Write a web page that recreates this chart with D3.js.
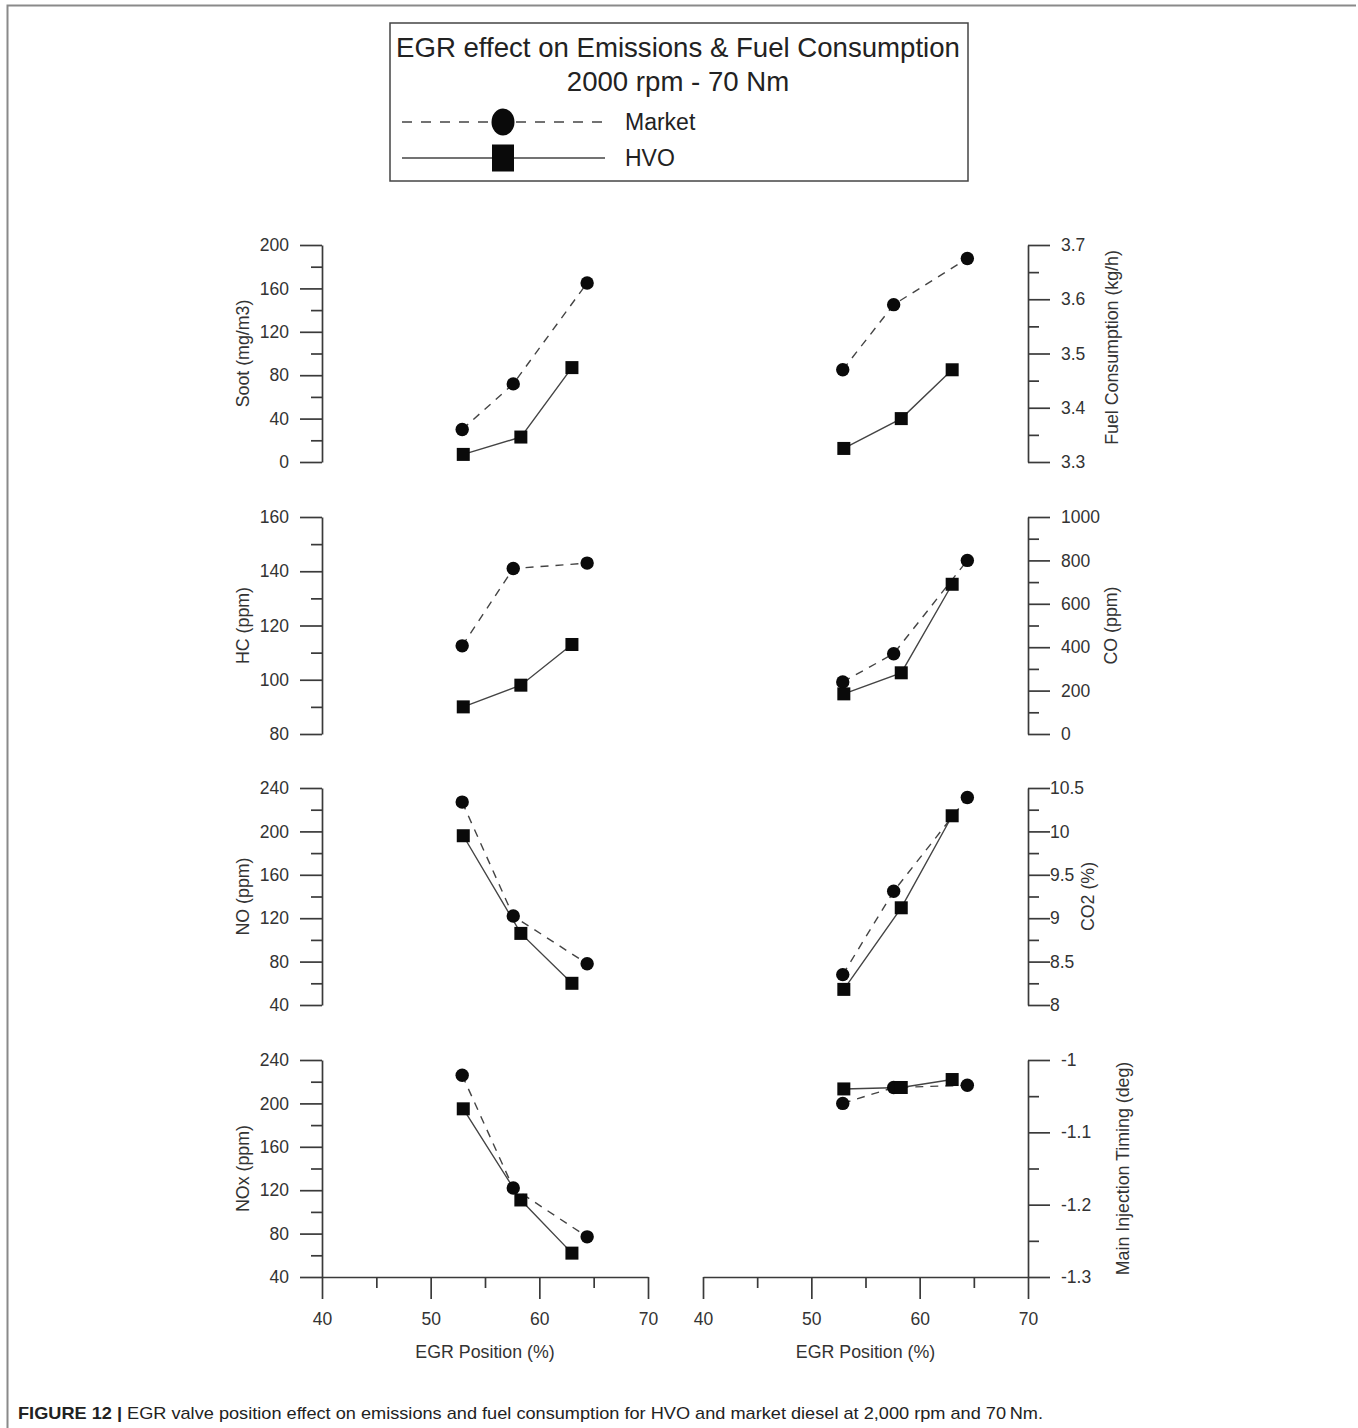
<!DOCTYPE html>
<html>
<head>
<meta charset="utf-8">
<script src="https://cdn.jsdelivr.net/npm/d3@7"></script>
<style>
  html, body { margin: 0; padding: 0; background: #fff; }
  svg { display: block; }
  text { font-family: "Liberation Sans", Arial, Helvetica, sans-serif; fill: #333; }
</style>
</head>
<body>
<script>
// EGR valve position (%) for each fuel
const egrMarket = [52.9, 57.6, 64.4];
const egrHVO = [53.0, 58.3, 63.0];

// Measured quantities, Market diesel vs HVO
const sootMarket = [30, 72, 165];
const sootHVO = [7, 23, 87];
const fuelMarket = [3.47, 3.59, 3.675];
const fuelHVO = [3.325, 3.38, 3.47];
const hcMarket = [112.5, 141, 143];
const hcHVO = [90, 98, 113];
const coMarket = [240, 370, 800];
const coHVO = [185, 282, 690];
const noMarket = [227, 122, 78];
const noHVO = [196, 106, 60];
const co2Market = [8.35, 9.31, 10.39];
const co2HVO = [8.18, 9.12, 10.18];
const noxMarket = [226, 122, 77];
const noxHVO = [195, 111, 62];
const mitMarket = [-1.06, -1.038, -1.035];
const mitHVO = [-1.04, -1.038, -1.027];

// Axis tick labels
const egrTicks = [40, 50, 60, 70];
const sootTicks = [0, 40, 80, 120, 160, 200];
const fuelTicks = [3.3, 3.4, 3.5, 3.6, 3.7];
const hcTicks = [80, 100, 120, 140, 160];
const coTicks = [0, 200, 400, 600, 800, 1000];
const noTicks = [40, 80, 120, 160, 200, 240];
const co2Ticks = [8, 8.5, 9, 9.5, 10, 10.5];
const noxTicks = [40, 80, 120, 160, 200, 240];
const mitTicks = [-1.3, -1.2, -1.1, -1];

const panels = [
  { col: 0, row: 0, title: "Soot (mg/m3)", ticks: sootTicks, market: sootMarket, hvo: sootHVO },
  { col: 1, row: 0, title: "Fuel Consumption (kg/h)", ticks: fuelTicks, market: fuelMarket, hvo: fuelHVO, titleDx: 84, titleDy: -6 },
  { col: 0, row: 1, title: "HC (ppm)", ticks: hcTicks, market: hcMarket, hvo: hcHVO },
  { col: 1, row: 1, title: "CO (ppm)", ticks: coTicks, market: coMarket, hvo: coHVO, titleDx: 83 },
  { col: 0, row: 2, title: "NO (ppm)", ticks: noTicks, market: noMarket, hvo: noHVO },
  { col: 1, row: 2, title: "CO2 (%)", ticks: co2Ticks, market: co2Market, hvo: co2HVO, titleDx: 60, pad: 0 },
  { col: 0, row: 3, title: "NOx (ppm)", ticks: noxTicks, market: noxMarket, hvo: noxHVO },
  { col: 1, row: 3, title: "Main Injection Timing (deg)", ticks: mitTicks, market: mitMarket, hvo: mitHVO, titleDx: 95 }
];

const W = 1358, H = 1428;
const rowTop = [245, 517, 788, 1060];
const panelH = 217;
const axisColor = "#3a3a3a";
const lineColor = "#444";
const markColor = "#0a0a0a";
const dash = "8,7";
const fmt = d => String(+d.toFixed(3));

const svg = d3.select("body").append("svg")
  .attr("width", W).attr("height", H)
  .attr("viewBox", `0 0 ${W} ${H}`);

svg.append("rect").attr("width", W).attr("height", H).attr("fill", "#fff");

// outer frame
svg.append("path")
  .attr("d", "M7.5,1428 V5.5 H1356")
  .attr("fill", "none").attr("stroke", "#8a8a8a").attr("stroke-width", 2);

// Legend box
const leg = svg.append("g");
leg.append("rect")
  .attr("x", 390).attr("y", 23).attr("width", 578).attr("height", 158)
  .attr("fill", "#fff").attr("stroke", "#444").attr("stroke-width", 1.5);
leg.append("text").attr("x", 678).attr("y", 57).attr("text-anchor", "middle")
  .style("font-size", "27.6px").style("fill", "#222").text("EGR effect on Emissions & Fuel Consumption");
leg.append("text").attr("x", 678).attr("y", 91).attr("text-anchor", "middle")
  .style("font-size", "27.6px").style("fill", "#222").text("2000 rpm - 70 Nm");

const legendRows = [
  { name: "Market", y: 122, dash: "10,9", shape: "circle" },
  { name: "HVO", y: 158, dash: null, shape: "square" }
];
legendRows.forEach(r => {
  leg.append("line").attr("x1", 402).attr("x2", 605).attr("y1", r.y).attr("y2", r.y)
    .attr("stroke", lineColor).attr("stroke-width", 1.4)
    .attr("stroke-dasharray", r.dash);
  if (r.shape === "circle") {
    leg.append("ellipse").attr("cx", 503).attr("cy", r.y).attr("rx", 11.5).attr("ry", 13.5).attr("fill", markColor);
  } else {
    leg.append("rect").attr("x", 492).attr("y", r.y - 13.5).attr("width", 22).attr("height", 27).attr("fill", markColor);
  }
  leg.append("text").attr("x", 625).attr("y", r.y + 8).style("font-size", "23px").style("fill", "#222").text(r.name);
});

// x scales for both columns
const xScales = [
  d3.scaleLinear().domain([40, 70]).range([322, 648]),
  d3.scaleLinear().domain([40, 70]).range([703, 1028])
];
const yAxisX = [322, 1028];

function midpoints(arr) {
  return arr.slice(1).map((v, i) => (v + arr[i]) / 2);
}

function styleAxis(g) {
  g.selectAll("path, line").attr("stroke", axisColor).attr("stroke-width", 1.7);
  g.selectAll("text").style("font-size", "17.5px").style("fill", "#333")
    .style("font-family", '"Liberation Sans", Arial, sans-serif');
}

panels.forEach(p => {
  const top = rowTop[p.row];
  const x = xScales[p.col];
  const ext = d3.extent(p.ticks);
  const y = d3.scaleLinear().domain(ext).range([top + panelH, top]);
  const g = svg.append("g");
  const ax = yAxisX[p.col];

  // y axis: major + minor ticks
  const mk = p.col === 0 ? d3.axisLeft : d3.axisRight;
  const major = mk(y).tickValues(p.ticks).tickFormat(fmt)
    .tickSize(22).tickSizeOuter(0).tickPadding(p.pad !== undefined ? p.pad : 11);
  const minor = mk(y).tickValues(midpoints(p.ticks)).tickFormat("")
    .tickSize(11).tickSizeOuter(0);
  g.append("g").attr("transform", `translate(${ax},0)`).call(major).call(styleAxis);
  g.append("g").attr("transform", `translate(${ax},0)`).call(minor).call(styleAxis)
    .select(".domain").remove();

  // y axis title
  const tx = p.col === 0 ? ax - 79 : ax + p.titleDx;
  const ty = top + panelH / 2 + (p.titleDy || 0);
  g.append("text")
    .attr("transform", `translate(${tx},${ty}) rotate(-90)`)
    .attr("text-anchor", "middle").attr("dominant-baseline", "central")
    .style("font-size", "17.8px").style("fill", "#333")
    .text(p.title);

  // x axis on the bottom row
  if (p.row === 3) {
    const xb = top + panelH;
    const xMajor = d3.axisBottom(x).tickValues(egrTicks).tickFormat(fmt)
      .tickSize(22).tickSizeOuter(0).tickPadding(14);
    const xMinor = d3.axisBottom(x).tickValues(midpoints(egrTicks)).tickFormat("")
      .tickSize(11).tickSizeOuter(0);
    g.append("g").attr("transform", `translate(0,${xb})`).call(xMajor).call(styleAxis);
    g.append("g").attr("transform", `translate(0,${xb})`).call(xMinor).call(styleAxis)
      .select(".domain").remove();
    g.append("text")
      .attr("x", (x.range()[0] + x.range()[1]) / 2).attr("y", 1358)
      .attr("text-anchor", "middle")
      .style("font-size", "17.8px").style("fill", "#333")
      .text("EGR Position (%)");
  }

  // series: Market (dashed, circles) below HVO (solid, squares)
  const mPts = egrMarket.map((e, i) => [e, p.market[i]]);
  const hPts = egrHVO.map((e, i) => [e, p.hvo[i]]);
  const line = d3.line().x(d => x(d[0])).y(d => y(d[1]));

  g.append("path").datum(mPts).attr("d", line)
    .attr("fill", "none").attr("stroke", lineColor).attr("stroke-width", 1.4)
    .attr("stroke-dasharray", dash);
  g.append("path").datum(hPts).attr("d", line)
    .attr("fill", "none").attr("stroke", lineColor).attr("stroke-width", 1.4);

  g.selectAll("circle.m").data(mPts).enter().append("circle")
    .attr("class", "m")
    .attr("cx", d => x(d[0])).attr("cy", d => y(d[1])).attr("r", 6.7)
    .attr("fill", markColor);
  const s = 13;
  g.selectAll("rect.h").data(hPts).enter().append("rect")
    .attr("class", "h")
    .attr("x", d => x(d[0]) - s / 2).attr("y", d => y(d[1]) - s / 2)
    .attr("width", s).attr("height", s)
    .attr("fill", markColor);
});

// Caption
const cap = svg.append("text")
  .attr("x", 18).attr("y", 1419)
  .attr("textLength", 1025).attr("lengthAdjust", "spacingAndGlyphs")
  .style("font-family", '"Liberation Sans Narrow", "Liberation Sans", Arial, sans-serif')
  .style("font-size", "17px").style("fill", "#222");
cap.append("tspan").style("font-weight", "bold").text("FIGURE 12 | ");
cap.append("tspan").text("EGR valve position effect on emissions and fuel consumption for HVO and market diesel at 2,000 rpm and 70\u2009Nm.");
</script>
</body>
</html>
